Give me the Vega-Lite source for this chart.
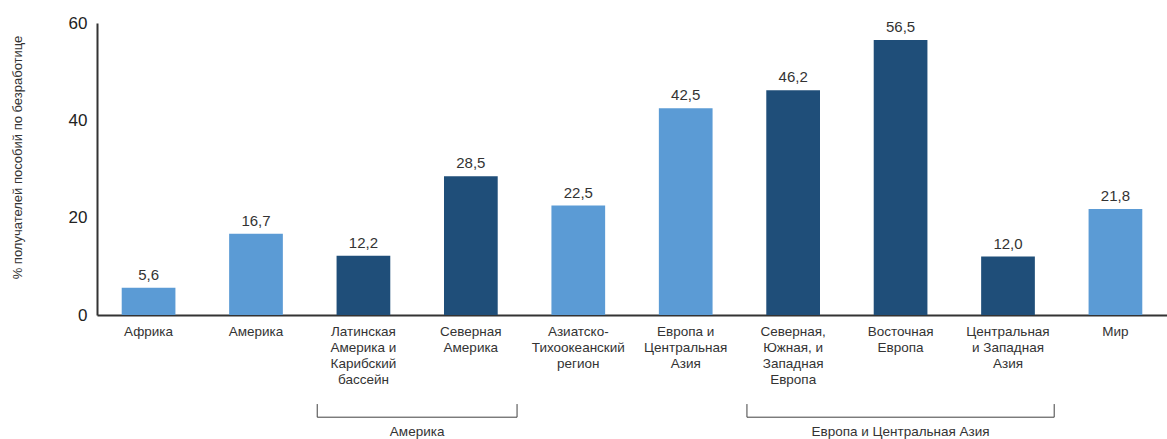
{
  "$schema": "https://vega.github.io/schema/vega-lite/v6.json",
  "autosize": {"type": "none"},
  "width": 1070,
  "height": 292,
  "padding": {"left": 97, "top": 23, "right": 0, "bottom": 124},
  "background": "white",
  "config": {
    "view": {"stroke": null},
    "font": "Liberation Sans Narrow, Liberation Sans, Arial, sans-serif",
    "locale": {"number": {"decimal": ",", "thousands": " ", "grouping": [3], "currency": ["", ""]}}
  },
  "datasets": {
    "regions": [
      {"region": "Африка", "level": "Регион", "value": 5.6},
      {"region": "Америка", "level": "Регион", "value": 16.7},
      {"region": "Латинская\nАмерика и\nКарибский\nбассейн", "level": "Субрегион", "value": 12.2},
      {"region": "Северная\nАмерика", "level": "Субрегион", "value": 28.5},
      {"region": "Азиатско-\nТихоокеанский\nрегион", "level": "Регион", "value": 22.5},
      {"region": "Европа и\nЦентральная\nАзия", "level": "Регион", "value": 42.5},
      {"region": "Северная,\nЮжная, и\nЗападная\nЕвропа", "level": "Субрегион", "value": 46.2},
      {"region": "Восточная\nЕвропа", "level": "Субрегион", "value": 56.5},
      {"region": "Центральная\nи Западная\nАзия", "level": "Субрегион", "value": 12.0},
      {"region": "Мир", "level": "Регион", "value": 21.8}
    ],
    "brackets": [
      {"group": "Америка", "first": "Латинская\nАмерика и\nКарибский\nбассейн", "last": "Северная\nАмерика", "mid": "Северная\nАмерика", "lineLevel": -21, "tickTop": -18.3, "labelLevel": -24},
      {"group": "Европа и Центральная Азия", "first": "Северная,\nЮжная, и\nЗападная\nЕвропа", "last": "Центральная\nи Западная\nАзия", "mid": "Восточная\nЕвропа", "lineLevel": -21, "tickTop": -18.3, "labelLevel": -24}
    ]
  },
  "layer": [
    {
      "data": {"name": "regions"},
      "mark": {"type": "bar"},
      "encoding": {
        "x": {
          "field": "region", "type": "nominal", "sort": null,
          "scale": {"paddingInner": 0.5, "paddingOuter": 0.23},
          "axis": {
            "title": null, "labelAngle": 0, "ticks": false,
            "labelExpr": "split(datum.value, '\\n')",
            "labelFontSize": 13.5, "labelLineHeight": 16, "labelColor": "#333333",
            "labelPadding": 9, "labelBaseline": "top",
            "domainColor": "#333333", "domainWidth": 2
          }
        },
        "y": {
          "field": "value", "type": "quantitative",
          "scale": {"domain": [0, 60], "nice": false},
          "axis": {
            "title": "% получателей пособий по безработице",
            "titleFontSize": 13, "titleFontWeight": "normal", "titleColor": "#333333",
            "titlePadding": 44, "titleY": 134,
            "values": [0, 20, 40, 60], "grid": false, "ticks": false,
            "labelFontSize": 17, "labelColor": "#222222", "labelPadding": 10,
            "labelFont": "Liberation Sans",
            "domainColor": "#333333", "domainWidth": 2
          }
        },
        "color": {
          "field": "level", "type": "nominal",
          "scale": {"domain": ["Регион", "Субрегион"], "range": ["#5B9BD5", "#1F4E79"]},
          "legend": null
        }
      }
    },
    {
      "data": {"name": "regions"},
      "mark": {"type": "text", "baseline": "bottom", "dy": -5, "fontSize": 15, "font": "Liberation Sans", "color": "#333333"},
      "encoding": {
        "x": {"field": "region", "type": "nominal", "sort": null},
        "y": {"field": "value", "type": "quantitative"},
        "text": {"field": "value", "type": "quantitative", "format": ".1f"}
      }
    },
    {
      "data": {"name": "brackets"},
      "mark": {"type": "rule", "color": "#404040", "strokeWidth": 1},
      "encoding": {
        "x": {"field": "first", "type": "nominal", "sort": null, "bandPosition": -0.36},
        "x2": {"field": "last", "bandPosition": 1.36},
        "y": {"field": "lineLevel", "type": "quantitative"}
      }
    },
    {
      "data": {"name": "brackets"},
      "mark": {"type": "rule", "color": "#404040", "strokeWidth": 1},
      "encoding": {
        "x": {"field": "first", "type": "nominal", "sort": null, "bandPosition": -0.36},
        "y": {"field": "lineLevel", "type": "quantitative"},
        "y2": {"field": "tickTop"}
      }
    },
    {
      "data": {"name": "brackets"},
      "mark": {"type": "rule", "color": "#404040", "strokeWidth": 1},
      "encoding": {
        "x": {"field": "last", "type": "nominal", "sort": null, "bandPosition": 1.36},
        "y": {"field": "lineLevel", "type": "quantitative"},
        "y2": {"field": "tickTop"}
      }
    },
    {
      "data": {"name": "brackets"},
      "transform": [{"filter": "datum.group == 'Америка'"}],
      "mark": {"type": "text", "baseline": "middle", "fontSize": 13.5, "color": "#333333"},
      "encoding": {
        "x": {"field": "mid", "type": "nominal", "sort": null, "bandPosition": -0.5},
        "y": {"field": "labelLevel", "type": "quantitative"},
        "text": {"field": "group"}
      }
    },
    {
      "data": {"name": "brackets"},
      "transform": [{"filter": "datum.group != 'Америка'"}],
      "mark": {"type": "text", "baseline": "middle", "fontSize": 13.5, "color": "#333333"},
      "encoding": {
        "x": {"field": "mid", "type": "nominal", "sort": null, "bandPosition": 0.5},
        "y": {"field": "labelLevel", "type": "quantitative"},
        "text": {"field": "group"}
      }
    }
  ]
}
